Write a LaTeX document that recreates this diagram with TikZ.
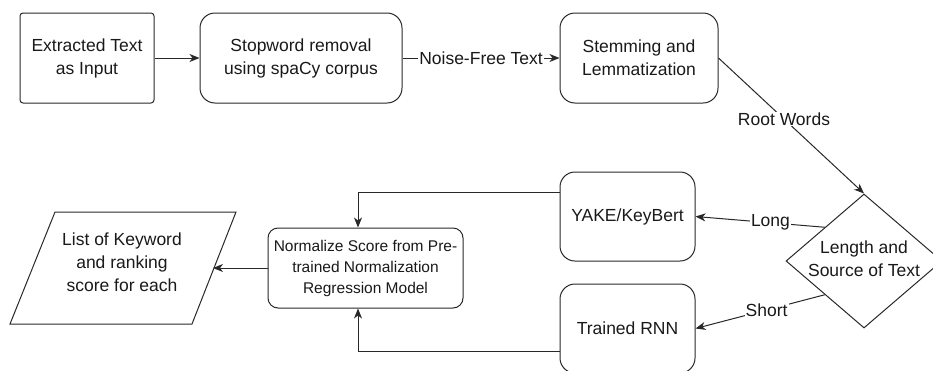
\documentclass[tikz,border=0pt]{standalone}
\usepackage{fontspec}
\setmainfont{Liberation Sans}
\usetikzlibrary{arrows.meta,shapes.geometric,calc}
\definecolor{strokec}{RGB}{40,40,40}
\definecolor{textc}{RGB}{25,25,25}
\begin{document}
\begin{tikzpicture}[x=1pt,y=-1pt,
  every node/.style={font=\fontsize{17.5}{23}\selectfont, text=textc},
  box/.style={draw=strokec, line width=1pt, rounded corners=15pt, align=center, inner sep=0pt},
  shapeline/.style={draw=strokec, line width=1pt},
  conn/.style={draw=strokec, line width=1pt, -{Stealth[length=10pt,width=8pt,inset=3pt]}},
  lbl/.style={fill=white, inner sep=1pt}
]
\useasboundingbox (0,0) rectangle (933,370);
% top row
\node[box, rounded corners=3pt, minimum width=134pt, minimum height=90pt] (a) at (87,58) {Extracted Text\\as Input};
\node[box, minimum width=202pt, minimum height=90pt] (b) at (301,58) {Stopword removal\\using spaCy corpus};
\node[box, minimum width=158pt, minimum height=90pt] (c) at (639,58) {Stemming and\\Lemmatization};
% decision
\node[diamond, shapeline, minimum width=156pt, minimum height=134pt, inner sep=0pt] (d) at (864,261) {};
\node[align=center, inner sep=0pt] (dt) at (864,259) {Length and\\Source of Text};
% methods
\node[box, minimum width=135pt, minimum height=89pt] (yake) at (627.5,216.5) {YAKE/KeyBert};
\node[box, minimum width=135pt, minimum height=89pt] (rnn) at (627.5,328.5) {Trained RNN};
% normalize
\node[box, rounded corners=10pt, minimum width=195pt, minimum height=80pt,
      font=\fontsize{15.5}{21}\selectfont] (norm) at (365.5,268) {Normalize Score from Pre-\\trained Normalization\\Regression Model};
% output parallelogram
\draw[shapeline] (55,212) -- (236,212) -- (192,324) -- (10,324) -- cycle;
\node[align=center, inner sep=0pt] (p) at (122,262) {List of Keyword\\and ranking\\score for each};
\coordinate (pr) at (213,268);
% connectors
\draw[conn] (a) -- (b);
\draw[conn] (b) -- node[lbl] {Noise-Free Text} (c);
\draw[conn] (c.east) -- node[lbl, pos=0.45] {Root Words} (d.north);
\draw[conn] (d.north west) -- node[lbl, pos=0.42] {Long} (yake.east);
\draw[conn] (d.south west) -- node[lbl, pos=0.45] {Short} (rnn.east);
\coordinate (yk) at ($(yake.north west)!0.236!(yake.south west)$);
\coordinate (rk) at ($(rnn.north west)!0.76!(rnn.south west)$);
\draw[conn] (yk) -| ($(norm.north)+(-7.5,0)$);
\draw[conn] (rk) -| ($(norm.south)+(-7.5,0)$);
\draw[conn] (norm.west) -- (pr);
\end{tikzpicture}
\end{document}
